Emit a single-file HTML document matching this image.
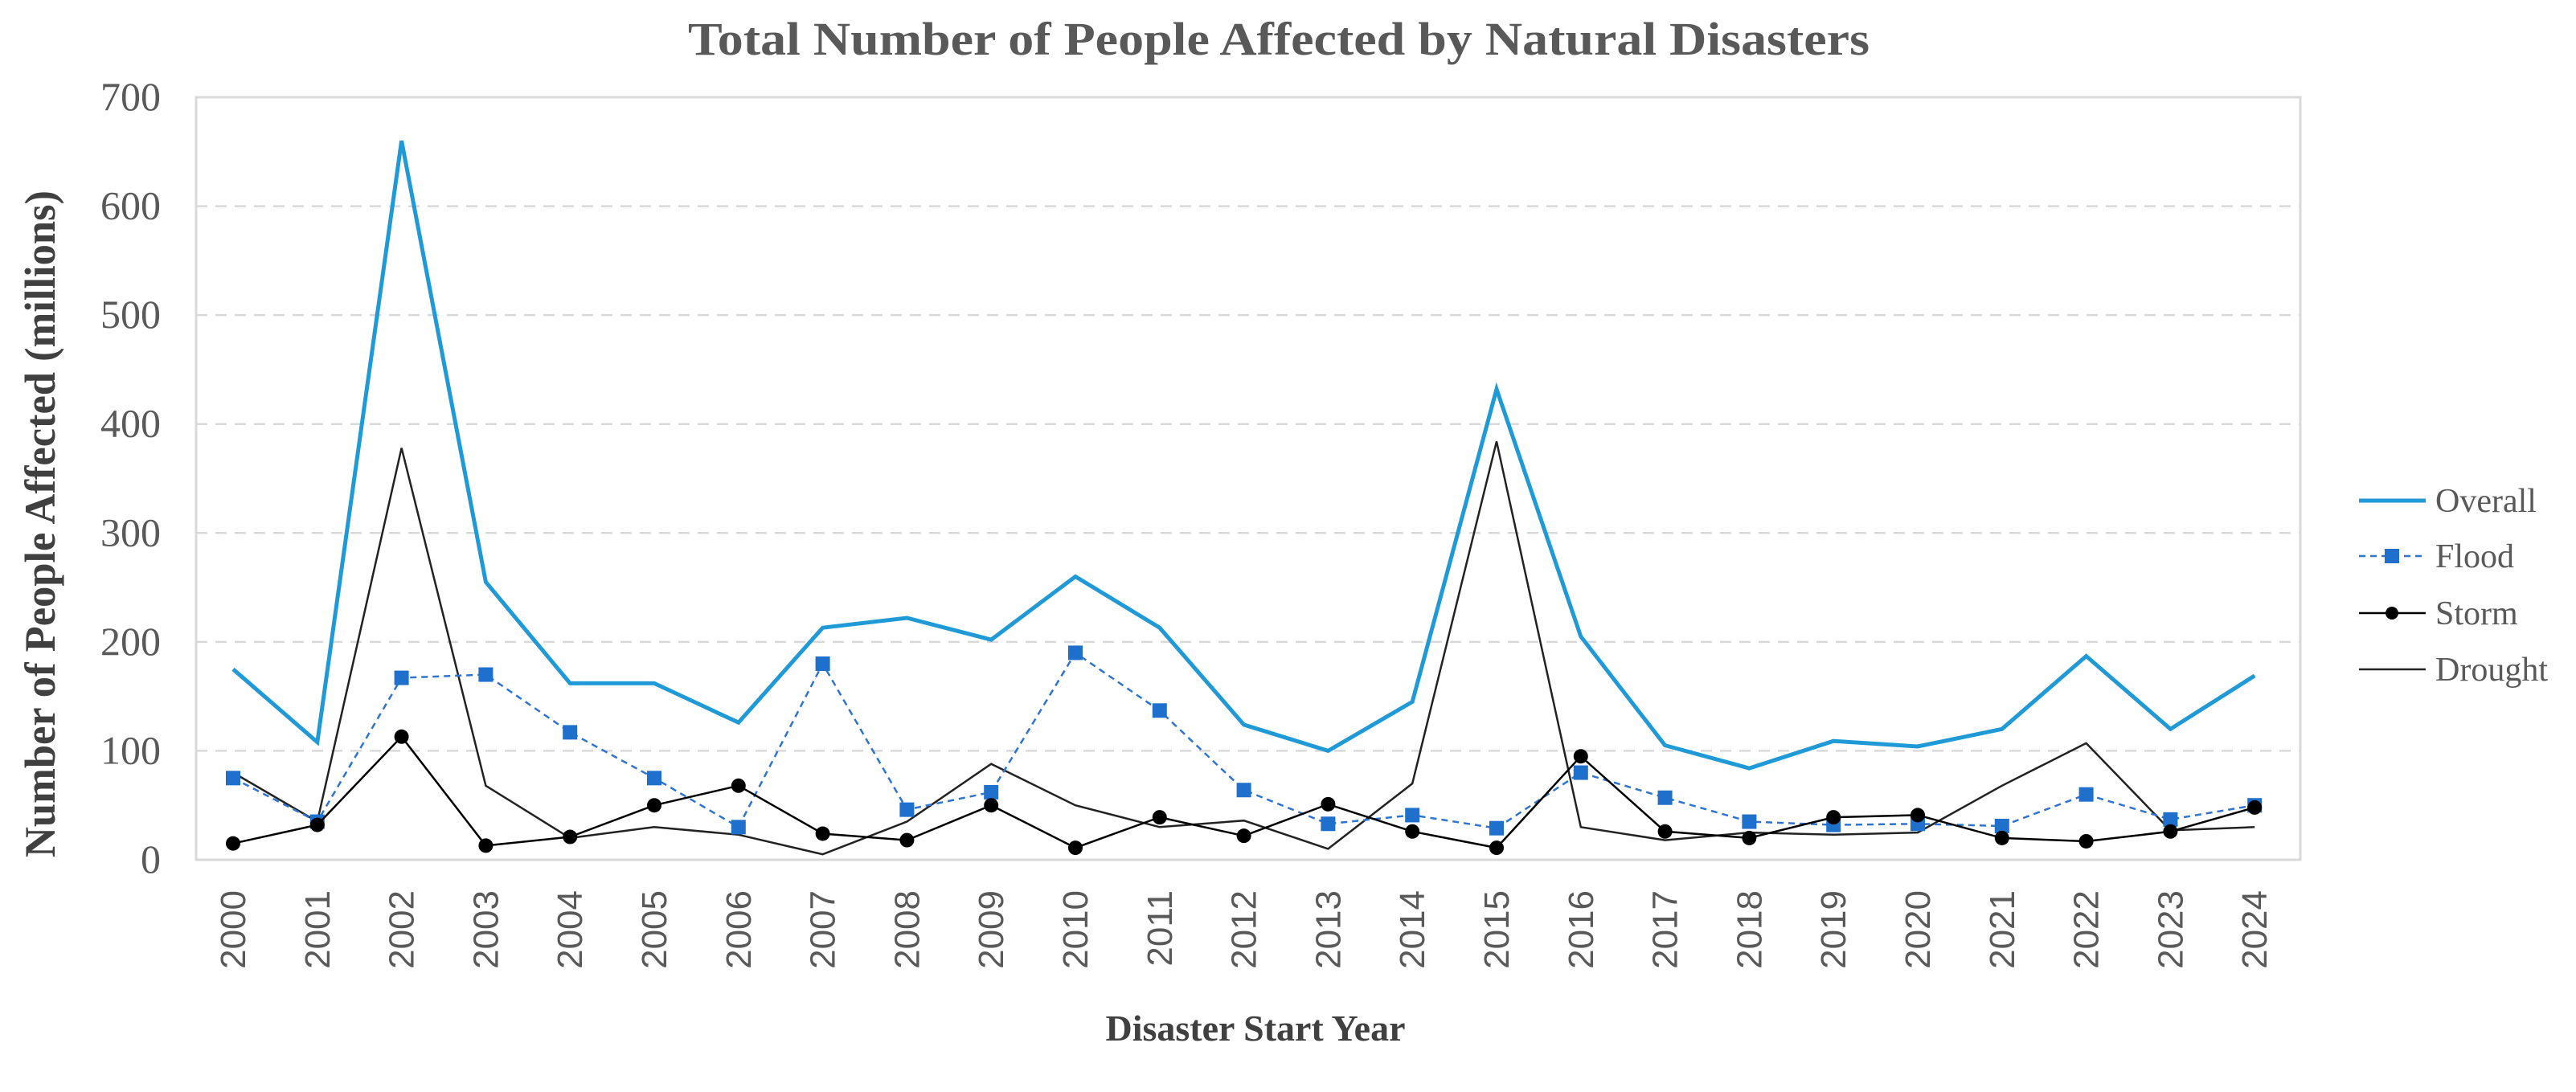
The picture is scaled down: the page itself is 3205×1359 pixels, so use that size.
<!DOCTYPE html>
<html><head><meta charset="utf-8"><style>
html,body{margin:0;padding:0;background:#fff;}
svg{display:block;}
</style></head><body>
<svg id="chart" width="3205" height="1359" xmlns="http://www.w3.org/2000/svg">
<rect x="0" y="0" width="3205" height="1359" fill="#fff"/>
<text x="1591" y="68" text-anchor="middle" font-family="Liberation Serif, serif" font-weight="bold" font-size="58" fill="#595959" textLength="1470" lengthAdjust="spacingAndGlyphs">Total Number of People Affected by Natural Disasters</text>
<g id="grid"></g>
<rect x="244" y="121" width="2618" height="949" fill="none" stroke="#d9d9d9" stroke-width="3"/>
<g id="yticks"></g>
<g id="xticks"></g>
<g id="series"></g>
<text transform="translate(68,652) rotate(-90)" text-anchor="middle" font-family="Liberation Serif, serif" font-weight="bold" font-size="54" fill="#404040" textLength="830" lengthAdjust="spacingAndGlyphs">Number of People Affected (millions)</text>
<text x="1562" y="1295" text-anchor="middle" font-family="Liberation Serif, serif" font-weight="bold" font-size="46" fill="#404040">Disaster Start Year</text>
<g>
 <g>
  <line x1="2935" y1="623" x2="3018" y2="623" stroke="#1f9ad6" stroke-width="5"/>
  <text x="3030" y="637" font-family="Liberation Serif, serif" font-size="42" fill="#595959">Overall</text>
 </g>
 <g>
  <line x1="2935" y1="692" x2="3018" y2="692" stroke="#2e74d0" stroke-width="2.5" stroke-dasharray="8,6"/>
  <rect x="2967" y="683" width="18" height="18" fill="#1f6fcc"/>
  <text x="3030" y="706" font-family="Liberation Serif, serif" font-size="42" fill="#595959">Flood</text>
 </g>
 <g>
  <line x1="2935" y1="763" x2="3018" y2="763" stroke="#000" stroke-width="2.5"/>
  <circle cx="2976" cy="763" r="8" fill="#000"/>
  <text x="3030" y="777" font-family="Liberation Serif, serif" font-size="42" fill="#595959">Storm</text>
 </g>
 <g>
  <line x1="2935" y1="833" x2="3018" y2="833" stroke="#222" stroke-width="2.5"/>
  <text x="3030" y="847" font-family="Liberation Serif, serif" font-size="42" fill="#595959">Drought</text>
 </g>
</g>
</svg>
<script>
const years = [2000,2001,2002,2003,2004,2005,2006,2007,2008,2009,2010,2011,2012,2013,2014,2015,2016,2017,2018,2019,2020,2021,2022,2023,2024];
const overall = [175,108,660,255,162,162,126,213,222,202,260,213,124,100,145,432,205,105,84,109,104,120,187,120,169];
const flood = [75,35,167,170,117,75,30,180,46,62,190,137,64,33,41,29,80,57,35,32,33,31,60,37,50];
const storm = [15,32,113,13,21,50,68,24,18,50,11,39,22,51,26,11,95,26,20,39,41,20,17,26,48];
const drought = [80,35,378,68,20,30,23,5,35,88,50,30,36,10,70,384,30,18,25,23,25,68,107,27,30];
const yTicks = [0,100,200,300,400,500,600,700];

const NS = 'http://www.w3.org/2000/svg';
const X0 = 290, DX = 104.8, Y0 = 1070, YMAX = 700, YTOP = 121;
function xs(i){ return X0 + i*DX; }
function ys(v){ return Y0 - (v/YMAX)*(Y0-YTOP); }
function mk(tag, attrs){ const e=document.createElementNS(NS,tag); for(const k in attrs) e.setAttribute(k,attrs[k]); return e; }

const grid=document.getElementById('grid'), yt=document.getElementById('yticks'), xt=document.getElementById('xticks'), ser=document.getElementById('series');
yTicks.forEach(v=>{
  if(v>0 && v<YMAX){
    const l=mk('line',{x1:244,x2:2862,y1:ys(v),y2:ys(v),stroke:'#d9d9d9','stroke-width':2.5,'stroke-dasharray':'14,10'});
    
    
    grid.appendChild(l);
  }
  const t=mk('text',{x:200,y:ys(v)+16,'text-anchor':'end','font-family':'Liberation Serif, serif','font-size':'50',fill:'#595959'});
  t.textContent=v;
  
  
  yt.appendChild(t);
});
years.forEach((yr,i)=>{
  const t=mk('text',{transform:'translate('+(xs(i)+15)+',1108) rotate(-90)','text-anchor':'end','font-family':'Liberation Sans, sans-serif','font-size':'44',fill:'#595959'});
  t.textContent=yr;
  
  
  xt.appendChild(t);
});
function pts(arr){ return arr.map((v,i)=>xs(i).toFixed(1)+','+ys(v).toFixed(1)).join(' '); }

const dr=mk('polyline',{points:pts(drought),fill:'none',stroke:'#222','stroke-width':2.5,'stroke-linejoin':'miter'});


ser.appendChild(dr);

const ov=mk('polyline',{points:pts(overall),fill:'none',stroke:'#1f9ad6','stroke-width':5});


ser.appendChild(ov);

const fl=mk('polyline',{points:pts(flood),fill:'none',stroke:'#2e74d0','stroke-width':2.5,'stroke-dasharray':'8,6'});


ser.appendChild(fl);
flood.forEach((v,i)=>{
  const r=mk('rect',{x:xs(i)-9,y:ys(v)-9,width:18,height:18,fill:'#1f6fcc'});
  
  
  ser.appendChild(r);
});

const st=mk('polyline',{points:pts(storm),fill:'none',stroke:'#000','stroke-width':2.5});


ser.appendChild(st);
storm.forEach((v,i)=>{
  const c=mk('circle',{cx:xs(i),cy:ys(v),r:9,fill:'#000'});
  
  
  ser.appendChild(c);
});
</script>
</body></html>
